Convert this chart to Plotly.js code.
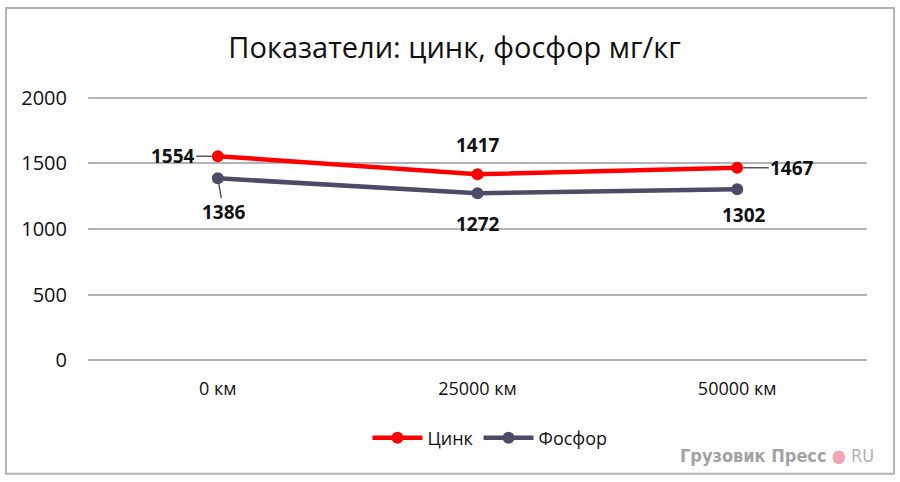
<!DOCTYPE html>
<html>
<head>
<meta charset="utf-8">
<script src="https://cdn.plot.ly/plotly-3.0.1.min.js"></script>
<style>
  html, body { margin: 0; padding: 0; background: #ffffff; }
  #chart { width: 900px; height: 482px; }
</style>
</head>
<body>
<div id="chart"></div>
<script>
// Chart data
const categories = ['0 км', '25000 км', '50000 км'];
const zincValues = [1554, 1417, 1467];
const phosphorValues = [1386, 1272, 1302];
const yTicks = [0, 500, 1000, 1500, 2000];

const seriesNames = ['Цинк', 'Фосфор'];
const seriesColors = ['#ff0000', '#4b4c68'];

// Label placement for each point (pixel offsets from the marker)
const zincLabelOffsets = [[-45, 0, true], [0, -29, false], [55, 0, true]];
const phosphorLabelOffsets = [[6, 34, true], [0, 31, false], [7, 26, false]];

const baseFont = '"Open Sans", "Noto Sans", sans-serif';

function makeTrace(name, values, color) {
    return {
        x: categories,
        y: values,
        name: name,
        type: 'scatter',
        mode: 'lines+markers',
        line: { color: color, width: 4.5 },
        marker: { color: color, size: 12 },
        hoverinfo: 'skip'
    };
}

function makeLabels(values, offsets) {
    return values.map((v, i) => {
        const [dx, dy, leader] = offsets[i];
        const ann = {
            x: categories[i],
            y: v,
            xref: 'x',
            yref: 'y',
            text: '<b>' + v + '</b>',
            font: { family: baseFont, size: 19, color: '#111111' }
        };
        if (leader) {
            ann.showarrow = true;
            ann.arrowhead = 0;
            ann.arrowwidth = 1.5;
            ann.arrowcolor = '#555566';
            ann.standoff = 6;
            ann.ax = dx;
            ann.ay = dy;
        } else {
            ann.showarrow = false;
            ann.xshift = dx;
            ann.yshift = -dy;
        }
        return ann;
    });
}

const traces = [
    makeTrace(seriesNames[0], zincValues, seriesColors[0]),
    makeTrace(seriesNames[1], phosphorValues, seriesColors[1])
];

const annotations = makeLabels(zincValues, zincLabelOffsets)
    .concat(makeLabels(phosphorValues, phosphorLabelOffsets));

// Watermark
annotations.push({
    xref: 'paper',
    yref: 'paper',
    x: 1.012,
    y: -0.345,
    xanchor: 'right',
    yanchor: 'middle',
    showarrow: false,
    text: '<b>Грузовик Пресс</b> <span style="color:#f2a7b2">●</span> <span style="color:#b0b0b0">RU</span>',
    font: { family: '"Liberation Sans Narrow", "DejaVu Sans Condensed", sans-serif', size: 18, color: '#a3a3a3' }
});

// plot area padded 20 units each side so the 0 and 2000 gridlines are kept
const layout = {
    width: 900,
    height: 482,
    margin: { l: 88, r: 33, t: 95.4, b: 119.4 },
    paper_bgcolor: '#ffffff',
    plot_bgcolor: '#ffffff',
    title: {
        text: 'Показатели: цинк, фосфор мг/кг',
        font: { family: baseFont, size: 29, color: '#111111' },
        xref: 'container',
        yref: 'container',
        x: 0.505,
        y: 0.9,
        xanchor: 'center',
        yanchor: 'middle'
    },
    xaxis: {
        type: 'category',
        range: [-0.5, 2.5],
        showgrid: false,
        zeroline: false,
        showline: false,
        ticks: '',
        ticklabelstandoff: 13,
        tickfont: { family: baseFont, size: 18, color: '#111111' },
        fixedrange: true
    },
    yaxis: {
        range: [-20, 2020],
        tickvals: yTicks,
        ticktext: yTicks.map(String),
        showgrid: true,
        gridcolor: '#b3b3bb',
        gridwidth: 2,
        zeroline: false,
        showline: false,
        ticks: '',
        ticklabelstandoff: 20,
        tickfont: { family: baseFont, size: 20, color: '#111111' },
        fixedrange: true
    },
    showlegend: true,
    legend: {
        orientation: 'h',
        x: 0.516,
        y: -0.28,
        xanchor: 'center',
        yanchor: 'middle',
        font: { family: baseFont, size: 18, color: '#111111' },
        itemwidth: 50,
        bgcolor: 'rgba(0,0,0,0)'
    },
    annotations: annotations,
    shapes: [{
        type: 'rect',
        xref: 'paper',
        yref: 'paper',
        x0: -0.1053,
        x1: 1.0347,
        y0: -0.4133,
        y1: 1.3247,
        line: { color: '#b4b4bc', width: 2 },
        fillcolor: 'rgba(0,0,0,0)',
        layer: 'below'
    }]
};

Plotly.newPlot('chart', traces, layout, { displayModeBar: false, staticPlot: true });
</script>
</body>
</html>
